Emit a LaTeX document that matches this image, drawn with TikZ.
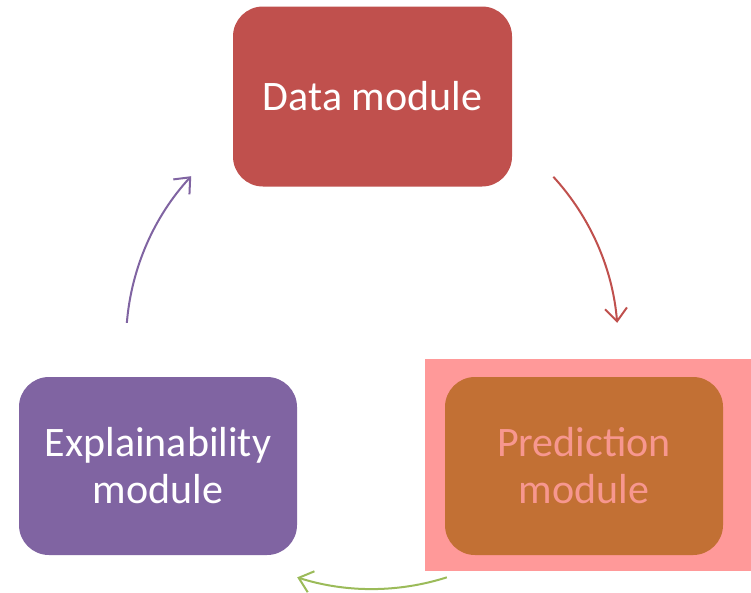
\documentclass[tikz,border=0pt]{standalone}
\usepackage{fontspec}
\setmainfont{Carlito}
\usetikzlibrary{arrows.meta}
\definecolor{datared}{HTML}{C0504D}
\definecolor{predorange}{HTML}{C27034}
\definecolor{hlpink}{HTML}{FF9999}
\definecolor{predtext}{HTML}{F7978F}
\definecolor{explpurple}{HTML}{8064A2}
\definecolor{arrowgreen}{HTML}{9BBB59}
\tikzset{
  modbox/.style={rectangle, rounded corners=30pt, minimum width=279pt, minimum height=180pt,
    inner sep=0pt, align=center, text=white, font=\fontsize{42}{47}\selectfont},
  cyclearrow/.style={line width=2pt, -{Straight Barb[length=13pt,width=22pt,line width=2pt]}}
}
\begin{document}
\begin{tikzpicture}[x=1pt,y=-1pt]
\useasboundingbox (0,0) rectangle (751,592);
\fill[white] (0,0) rectangle (751,592);
\node[rectangle, fill=hlpink, inner sep=0pt, minimum width=326pt, minimum height=212pt] (hl) at (588,465) {};
\node[modbox, fill=datared] (data) at (372.5,96.5) {Data module};
\node[modbox, fill=predorange, text=predtext, minimum width=278pt, minimum height=178pt] (pred) at (584,466) {Prediction\\module};
\node[modbox, fill=explpurple, minimum width=278pt, minimum height=178pt] (expl) at (158,466) {Explainability\\module};
\coordinate (c) at (372,343);
\draw[cyclearrow, datared] ([shift={(-42.5:246)}]c) arc[start angle=-42.5, end angle=-4.7, radius=246];
\draw[cyclearrow, arrowgreen] ([shift={(72.3:246)}]c) arc[start angle=72.3, end angle=107.7, radius=246];
\draw[cyclearrow, explpurple] ([shift={(184.7:246)}]c) arc[start angle=184.7, end angle=222.7, radius=246];
\end{tikzpicture}
\end{document}
